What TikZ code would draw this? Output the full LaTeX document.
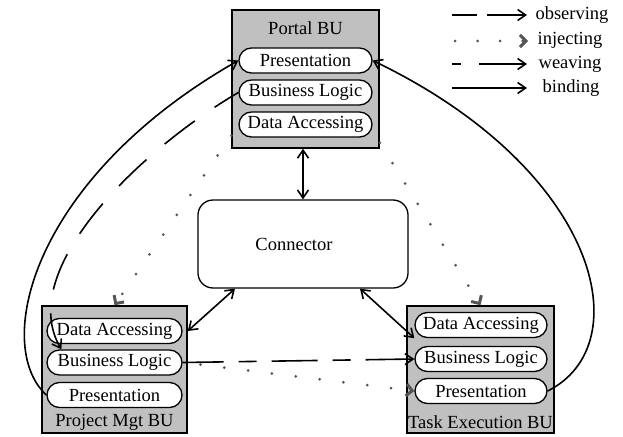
\documentclass[tikz,border=0pt]{standalone}
\usepackage{fontspec}
\setmainfont{Liberation Serif}
\usetikzlibrary{arrows.meta,calc}
\definecolor{boxgray}{RGB}{192,192,192}
\definecolor{injgray}{RGB}{85,85,85}
\begin{document}
\begin{tikzpicture}[x=1pt,y=-1pt,
  font=\fontsize{18.5pt}{22pt}\selectfont,
  bu/.style={draw=black,line width=1.5pt,fill=boxgray,inner sep=0pt},
  pill/.style={draw=black,fill=white,line width=1.3pt,rounded corners=12.5pt,minimum height=25pt,inner sep=0pt},
  link/.style={line width=1.6pt,draw=black},
  tipb/.style={-{Straight Barb[length=8pt,width=11pt]}},
  both/.style={{Straight Barb[length=8pt,width=11pt]}-{Straight Barb[length=8pt,width=11pt]}},
  inj/.style={draw=injgray,line width=3pt,line cap=round,dash pattern=on 0pt off 24pt},
  itip/.style={-{Straight Barb[length=6pt,width=12pt]}},
  legtext/.style={anchor=mid}
]
\useasboundingbox (0,0) rectangle (623,436);

% Portal BU
\node[bu,minimum width=147pt,minimum height=138pt] (portal) at (305.5,79) {};
\node (portalT) at (305.5,28) {Portal BU};
\node[pill,minimum width=133pt] (pPres) at (305.5,60.5) {Presentation};
\node[pill,minimum width=133pt] (pBL) at (305.5,92.5) {Business Logic};
\node[pill,minimum width=133pt] (pDA) at (305.5,124.5) {Data Accessing};

% Project Mgt BU
\node[bu,minimum width=145pt,minimum height=127pt] (pm) at (114.5,369.5) {};
\node[pill,minimum width=135pt] (pmDA) at (114.5,331) {Data Accessing};
\node[pill,minimum width=135pt] (pmBL) at (114.5,362.5) {Business Logic};
\node[pill,minimum width=135pt] (pmPres) at (114.5,395) {Presentation};
\node (pmT) at (114.5,422) {Project Mgt BU};

% Task Execution BU
\node[bu,minimum width=147pt,minimum height=127pt] (te) at (480.5,369.5) {};
\node[pill,minimum width=132pt] (teDA) at (481,325) {Data Accessing};
\node[pill,minimum width=132pt] (teBL) at (481,359) {Business Logic};
\node[pill,minimum width=132pt] (tePres) at (481,391) {Presentation};
\node (teT) at (480.5,422) {Task Execution BU};

% Connector
\node[draw=black,fill=white,line width=1.3pt,rounded corners=15pt,minimum width=210pt,minimum height=88pt,
      label={[xshift=-9pt]center:Connector}] (conn) at (303,244) {};

% connector links
\draw[link,both] (conn.north |- portal.south) -- (conn.north);
\draw[link,both] ([xshift=-68pt]conn.south) -- (pmDA.east -| pm.east);
\draw[link,both] ([xshift=57pt]conn.south) -- (teDA.south west);

% binding
\draw[link,tipb] (pmPres.west) .. controls (-8,345) and (32,178) .. (pPres.west);
\draw[link,tipb] (tePres.east) .. controls (640,345) and (600,170) .. (pPres.east);

% observing
\draw[link,tipb,dash pattern=on 38pt off 24pt,dash phase=10pt]
  (pBL.west) .. controls (140,150) and (15,270) .. ([xshift=15pt]pmBL.north west);

% weaving
\draw[link,tipb,dash pattern=on 46pt off 15pt on 18pt off 15pt,dash phase=5pt] (pmBL.east) -- (teBL.west);

% injecting
\draw[inj,itip] ([yshift=13pt]portal.south west) -- (pm.north);
\draw[inj,itip] ([yshift=6pt]portal.south east) -- (te.north);
\draw[inj,itip,dash phase=6pt] (pmBL.east) -- (tePres.west);

% legend
\coordinate (o1) at (452,15); \coordinate (o2) at (527,15);
\coordinate (i1) at (455,41); \coordinate (i2) at (528,41);
\coordinate (w1) at (452,64); \coordinate (w2) at (527,64);
\coordinate (b1) at (452,88); \coordinate (b2) at (527,88);
\draw[link,tipb,dash pattern=on 25pt off 10pt on 100pt off 10pt] (o1) -- (o2);
\draw[inj,itip,dash pattern=on 0pt off 22.5pt] (i1) -- (i2);
\draw[link,tipb,dash pattern=on 9pt off 18pt on 100pt off 10pt] (w1) -- (w2);
\draw[link,tipb] (b1) -- (b2);
\node[legtext] (lo) at (572,17) {observing};
\node[legtext] (li) at (570,42) {injecting};
\node[legtext] (lw) at (570,66) {weaving};
\node[legtext] (lb) at (571,90) {binding};
\end{tikzpicture}
\end{document}
